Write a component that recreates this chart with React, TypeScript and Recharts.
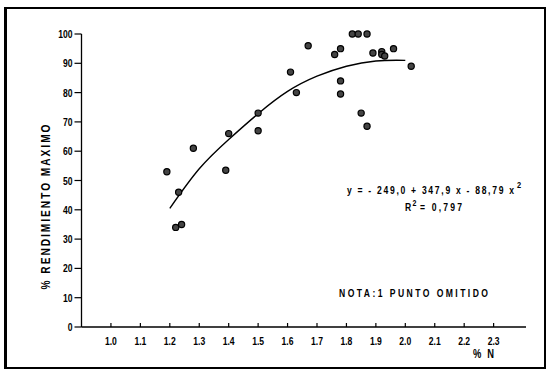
import React from 'react';
import { ComposedChart, Scatter, Line, XAxis, YAxis } from 'recharts';

const nPercent = [1.19, 1.23, 1.22, 1.24, 1.28, 1.39, 1.4, 1.5, 1.5, 1.61, 1.63, 1.67, 1.76, 1.78, 1.78, 1.78, 1.82, 1.84, 1.87, 1.85, 1.87, 1.89, 1.92, 1.92, 1.93, 1.96, 2.02];
const yieldPct = [53, 46, 34, 35, 61, 53.5, 66, 73, 67, 87, 80, 96, 93, 95, 84, 79.5, 100, 100, 100, 73, 68.5, 93.5, 94, 93, 92.5, 95, 89];

const curveN = [1.2, 1.3, 1.4, 1.5, 1.6, 1.7, 1.8, 1.9, 2.0];
const curveYield = [40.5, 54, 64, 72.8, 80.4, 85.6, 89, 90.8, 91];

const xTicks = [1.0, 1.1, 1.2, 1.3, 1.4, 1.5, 1.6, 1.7, 1.8, 1.9, 2.0, 2.1, 2.2, 2.3];
const yTicks = [0, 10, 20, 30, 40, 50, 60, 70, 80, 90, 100];

const points = nPercent.map((x, i) => ({ x, y: yieldPct[i] }));
const curve = curveN.map((x, i) => ({ x, fit: curveYield[i] }));

const FONT = '"Liberation Sans", Arial, sans-serif';
const SX = 0.78;

const NText = ({ x, y, size, anchor = 'start', len, rotate = 0, children }: any) => (
  <text
    transform={`translate(${x},${y}) rotate(${rotate}) scale(${SX},1)`}
    textAnchor={anchor}
    fontFamily={FONT}
    fontWeight="bold"
    fontSize={size}
    fill="#000"
    textLength={len ? len / SX : undefined}
    lengthAdjust={len ? 'spacing' : undefined}
  >
    {children}
  </text>
);

const Dot = (props: any) => {
  const { cx, cy } = props;
  if (cx == null || cy == null) return null;
  return <circle cx={cx} cy={cy} r={3.1} fill="#444" stroke="#000" strokeWidth={1.2} />;
};

const XTick = (props: any) => {
  const { x, y, payload } = props;
  return (
    <g>
      <line x1={x} y1={y} x2={x} y2={y - 4} stroke="#000" strokeWidth={1.2} />
      <NText x={x} y={y + 18} size={11} anchor="middle">
        {Number(payload.value).toFixed(1)}
      </NText>
    </g>
  );
};

const YTick = (props: any) => {
  const { x, y, payload } = props;
  return (
    <NText x={x} y={y + 4} size={11} anchor="end">
      {String(payload.value)}
    </NText>
  );
};

export default function App() {
  return (
    <div style={{ position: 'absolute', left: 0, top: 0, width: 547, height: 380, background: '#fff' }}>
      <div
        style={{
          position: 'absolute',
          left: 4,
          top: 7,
          width: 542,
          height: 362,
          boxSizing: 'border-box',
          borderTop: '2px solid #000',
          borderBottom: '2px solid #000',
          borderLeft: '3px solid #000',
          borderRight: '2px solid #000',
        }}
      />
      <ComposedChart width={547} height={380} margin={{ top: 34, right: 21, bottom: 23, left: 0 }}>
        <XAxis
          type="number"
          dataKey="x"
          domain={[0.9, 2.41]}
          ticks={xTicks}
          interval={0}
          allowDataOverflow
          height={30}
          tickSize={0}
          tickMargin={0}
          tickLine={false}
          axisLine={{ stroke: '#000', strokeWidth: 1.3 }}
          tick={<XTick />}
        />
        <YAxis
          type="number"
          domain={[0, 100]}
          ticks={yTicks}
          interval={0}
          width={81.5}
          tickSize={7}
          tickMargin={2}
          axisLine={{ stroke: '#000', strokeWidth: 1.3 }}
          tickLine={{ stroke: '#000', strokeWidth: 1.2 }}
          tick={<YTick />}
        />
        <Line
          data={curve}
          dataKey="fit"
          type="natural"
          stroke="#000"
          strokeWidth={1.4}
          dot={false}
          activeDot={false}
          isAnimationActive={false}
        />
        <Scatter data={points} dataKey="y" shape={<Dot />} isAnimationActive={false} />
      </ComposedChart>
      <svg
        width={547}
        height={380}
        style={{ position: 'absolute', left: 0, top: 0, pointerEvents: 'none' }}
      >
        <NText x={50} y={207} size={13} anchor="middle" rotate={-90} len={165}>
          % RENDIMIENTO  MAXIMO
        </NText>
        <NText x={473} y={358} size={12} len={21}>% N</NText>
        <NText x={347} y={194} size={11} len={167}>
          y = - 249,0 + 347,9 x - 88,79 x
        </NText>
        <NText x={517} y={188} size={9.5}>2</NText>
        <NText x={405} y={211} size={11}>R</NText>
        <NText x={412.5} y={206} size={9}>2</NText>
        <NText x={420} y={211} size={11} len={42}>= 0,797</NText>
        <NText x={339} y={297} size={11} len={149}>
          NOTA:1 PUNTO  OMITIDO
        </NText>
      </svg>
    </div>
  );
}
